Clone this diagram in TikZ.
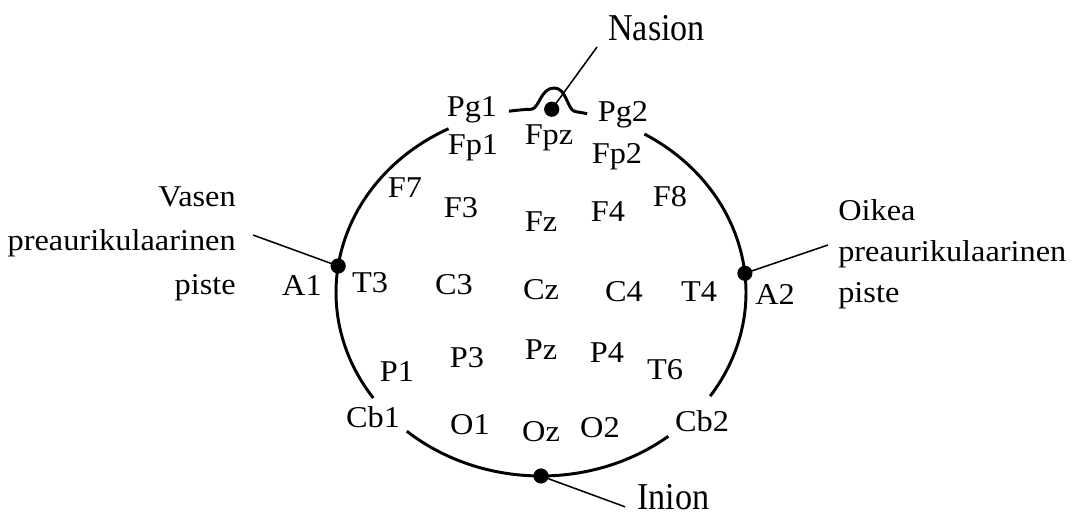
\documentclass[tikz,border=0pt]{standalone}
\usepackage{fontspec}
\setmainfont{Liberation Serif}
\newfontfamily\labelfont[FakeStretch=1.07]{Liberation Serif}
\newfontfamily\landfont[FakeStretch=0.9]{Liberation Serif}
\usepackage{tikz}
\usetikzlibrary{calc}

\tikzset{
  outline/.style={line width=2.1pt},
  leader/.style={line width=1.1pt},
  landmark/.style={circle,fill=black,inner sep=0pt,minimum size=0.38cm},
  elec/.style={font={\labelfont\fontsize{21.5}{24}\selectfont},inner sep=0pt,anchor=base},
  sideleft/.style={font={\labelfont\fontsize{21.5}{31.3}\selectfont},inner sep=0pt,anchor=east,align=right},
  sideright/.style={font={\labelfont\fontsize{21.5}{29.2}\selectfont},inner sep=0pt,anchor=west,align=left},
  bigname/.style={font={\landfont\fontsize{27}{30}\selectfont},inner sep=0pt,anchor=base west}
}

\begin{document}
\begin{tikzpicture}
    \useasboundingbox (0,0) rectangle (26.825,13);
    \coordinate (head) at (13.525,5.6875);

    % Head outline (gaps left for Pg, Cb labels)
    \draw[outline] ($(head)+(116.8:5.125 and 4.5875)$) arc[start angle=116.8, end angle=215.1, x radius=5.125, y radius=4.5875];
    \draw[outline] ($(head)+(59.7:5.125 and 4.5875)$) arc[start angle=59.7, end angle=-34.4, x radius=5.125, y radius=4.5875];
    \draw[outline] ($(head)+(229.1:5.125 and 4.5875)$) arc[start angle=229.1, end angle=308.4, x radius=5.125, y radius=4.5875];

    % Top with nose
    \coordinate (nose) at (13.85,10.8);
    \draw[outline] ($(head)+(99:5.125 and 4.5875)$) arc[start angle=99, end angle=92.5, x radius=5.125, y radius=4.5875]
        .. controls +(0.18,0.05) and +(-0.32,0) .. (nose)
        .. controls +(0.32,0) and +(-0.2,0.06) .. ($(head)+(80.5:5.125 and 4.5875)$)
        arc[start angle=80.5, end angle=77, x radius=5.125, y radius=4.5875];

    % Landmark points
    \node[landmark] (nasion) at ($(head)+(87:5.125 and 4.5875)$) {};
    \node[landmark] (a1) at ($(head)+(171.7:5.125 and 4.5875)$) {};
    \node[landmark] (a2) at ($(head)+(6:5.125 and 4.5875)$) {};
    \node[landmark] (inion) at ($(head)+(270:5.125 and 4.5875)$) {};

    % Landmark names
    \node[bigname] (nasiontxt) at (15.2,11.975) {Nasion};
    \node[bigname] (iniontxt) at (15.925,0.27) {Inion};
    \node[sideleft] (vasen) at (5.9,6.9) {Vasen\\preaurikulaarinen\\piste};
    \node[sideright] (oikea) at (20.95,6.65) {Oikea\\preaurikulaarinen\\piste};

    % Leader lines
    \coordinate (nasionend) at (14.925,11.825);
    \coordinate (vasenend) at (6.325,7.125);
    \coordinate (oikeaend) at (20.7,6.875);
    \coordinate (inionend) at (15.625,0.33);
    \draw[leader] (nasion.center) -- (nasionend);
    \draw[leader] (a1.center) -- (vasenend);
    \draw[leader] (a2.center) -- (oikeaend);
    \draw[leader] (inion.center) -- (inionend);

    % Electrodes, front
    \node[elec] (Pg1) at (11.8,10.075) {Pg1};
    \node[elec] (Pg2) at (15.575,9.95) {Pg2};
    \node[elec] (Fpz) at (13.725,9.375) {Fpz};
    \node[elec] (Fp1) at (11.825,9.125) {Fp1};
    \node[elec] (Fp2) at (15.425,8.9) {Fp2};
    \node[elec] (F7) at (10.125,8.05) {F7};
    \node[elec] (F3) at (11.525,7.55) {F3};
    \node[elec] (Fz) at (13.525,7.2) {Fz};
    \node[elec] (F4) at (15.2,7.45) {F4};
    \node[elec] (F8) at (16.75,7.825) {F8};

    % Electrodes, central row
    \node[elec] (A1) at (7.55,5.6) {A1};
    \node[elec] (T3) at (9.25,5.675) {T3};
    \node[elec] (C3) at (11.35,5.625) {C3};
    \node[elec] (Cz) at (13.525,5.5) {Cz};
    \node[elec] (C4) at (15.6,5.45) {C4};
    \node[elec] (T4) at (17.475,5.45) {T4};
    \node[elec] (A2) at (19.375,5.375) {A2};

    % Electrodes, back
    \node[elec] (P1) at (9.925,3.45) {P1};
    \node[elec] (P3) at (11.675,3.8) {P3};
    \node[elec] (Pz) at (13.525,4.0) {Pz};
    \node[elec] (P4) at (15.175,3.925) {P4};
    \node[elec] (T6) at (16.625,3.5) {T6};
    \node[elec] (Cb1) at (9.325,2.3) {Cb1};
    \node[elec] (O1) at (11.75,2.125) {O1};
    \node[elec] (Oz) at (13.525,1.95) {Oz};
    \node[elec] (O2) at (15.0,2.05) {O2};
    \node[elec] (Cb2) at (17.55,2.2) {Cb2};
\end{tikzpicture}
\end{document}
